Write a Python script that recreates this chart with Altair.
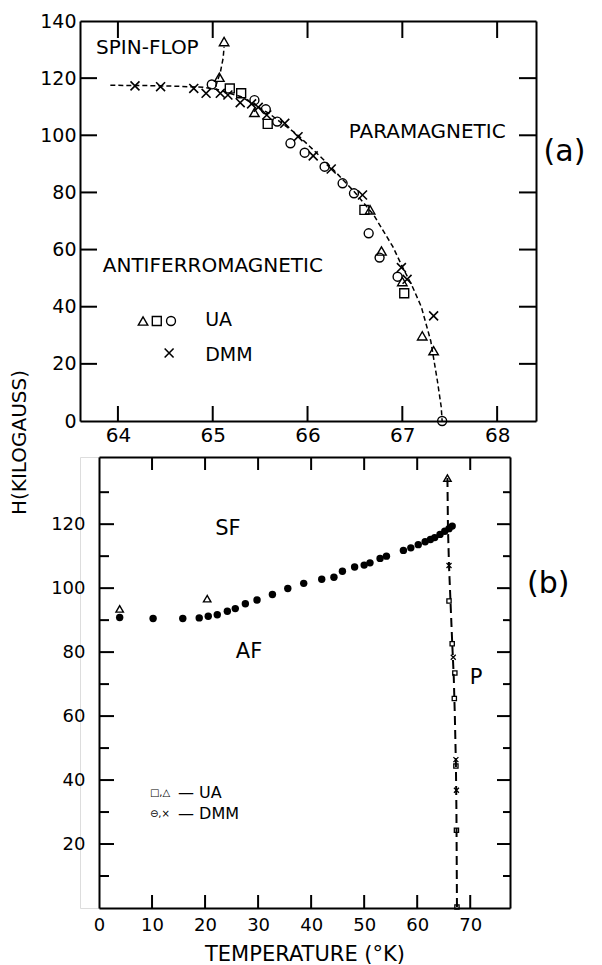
import altair as alt
import pandas as pd

FONT = "DejaVu Sans"
TICKCOLOR = "black"

# ---------------- Panel (a) data: temperature (K) vs field (kG) ----------------
a_tri_T = [65.12, 65.07, 65.44, 66.66, 66.78, 67.00, 67.21, 67.33]
a_tri_H = [132.8, 120.3, 108.0, 73.9, 59.5, 48.8, 29.8, 24.6]
a_sq_T = [65.18, 65.30, 65.58, 66.60, 67.02]
a_sq_H = [116.4, 114.7, 104.0, 73.9, 44.7]
a_circ_T = [64.99, 65.44, 65.56, 65.68, 65.82, 65.97, 66.18, 66.37, 66.49, 66.645, 66.76, 66.95, 67.42]
a_circ_H = [117.8, 112.3, 109.1, 104.8, 97.2, 93.9, 89.0, 83.2, 79.7, 65.7, 57.2, 50.5, 0.0]
a_x_T = [64.18, 64.45, 64.80, 64.93, 65.08, 65.16, 65.29, 65.41, 65.48, 65.57, 65.76, 65.90,
         66.06, 66.25, 66.58, 66.99, 67.05, 67.33]
a_x_H = [117.3, 117.0, 116.4, 114.7, 114.7, 114.1, 111.4, 111.0, 109.8, 107.1, 104.2, 99.5,
         92.8, 88.2, 79.1, 53.7, 49.6, 36.8]
a_curve_T = [63.92, 64.3, 64.6, 64.9, 65.05, 65.3, 65.6, 65.9, 66.2, 66.5, 66.7, 66.9, 67.0,
             67.1, 67.2, 67.3, 67.37, 67.41, 67.42]
a_curve_H = [117.5, 117.4, 117.2, 116.8, 116.0, 113.5, 107.5, 100.0, 90.5, 80.0, 72.0, 61.0,
             54.0, 47.5, 40.0, 28.0, 14.0, 5.0, 0.0]
a_branch_T = [65.03, 65.08, 65.11, 65.12]
a_branch_H = [117.0, 122.0, 127.0, 131.0]

a_xticks = [64, 65, 66, 67, 68]
a_ylabels = [0, 20, 40, 60, 80, 100, 120, 140]
a_yticks = [20, 40, 60, 80, 100, 120]

# ---------------- Panel (b) data ----------------
b_dot_T = [3.9, 10.2, 15.8, 18.9, 20.6, 22.3, 24.2, 25.7, 27.6, 29.8, 32.7, 35.6, 38.6, 42.0,
           44.3, 45.9, 48.2, 50.0, 51.1, 53.0, 54.2, 57.4, 58.8, 60.2, 61.5, 62.5, 63.3, 64.3,
           65.2, 66.0, 66.6]
b_dot_H = [90.8, 90.5, 90.5, 90.7, 91.2, 91.7, 92.8, 93.6, 95.1, 96.3, 98.0, 99.9, 101.5, 102.8,
           103.4, 105.3, 106.6, 107.2, 107.9, 109.3, 110.0, 111.8, 112.6, 113.6, 114.5, 115.2,
           115.8, 116.8, 117.8, 118.6, 119.4]
b_sq_T = [66.0, 66.6, 67.1, 67.0, 67.3, 67.4, 67.5]
b_sq_H = [96.0, 82.6, 73.5, 65.5, 44.4, 24.3, 0.3]
b_tri_T = [3.9, 20.4, 65.7]
b_tri_H = [93.5, 96.7, 134.4]
b_x_T = [66.0, 66.8, 67.3, 67.4]
b_x_H = [107.1, 78.4, 46.4, 36.8]
b_line_T = [65.7, 65.8, 66.0, 66.3, 66.6, 66.9, 67.1, 67.3, 67.4, 67.5]
b_line_H = [134.4, 119.0, 107.0, 95.0, 83.0, 72.0, 60.0, 45.0, 30.0, 0.0]

b_xlabels = [0, 10, 20, 30, 40, 50, 60, 70]
b_xticks = [10, 20, 30, 40, 50, 60, 70]
b_ylabels = [20, 40, 60, 80, 100, 120]
b_yminor = [10, 30, 50, 70, 90, 110, 130]

# ---------------- annotations (text and legend) ----------------
a_text = ["SPIN-FLOP", "ANTIFERROMAGNETIC"]
a_text_T = [63.77, 63.84]
a_text_H = [130.5, 54.1]
a_para = ["PARAMAGNETIC"]
a_para_T = [68.09]
a_para_H = [101.3]
a_tag_T, a_tag_H = [68.49], [94.2]
a_leg_text = ["UA", "DMM"]
a_leg_text_T = [64.92, 64.92]
a_leg_text_H = [35.3, 23.1]
a_leg_tri = ([64.265], [35.0])
a_leg_sq = ([64.41], [35.0])
a_leg_circ = ([64.56], [35.0])
a_leg_x = ([64.54], [23.8])

b_text = ["SF", "AF", "P"]
b_text_T = [24.3, 28.3, 71.1]
b_text_H = [118.4, 80.0, 71.9]
b_tag_T, b_tag_H = [84.7], [101.3]
b_leg_sym = ["\u25a1,\u25b3", "\u2296,\u00d7"]
b_leg_lab = ["\u2014 UA", "\u2014 DMM"]
b_leg_sym_T = [9.6, 9.6]
b_leg_lab_T = [14.9, 14.9]
b_leg_H = [35.8, 29.5]

CROSS = "M-1,-1L1,1M-1,1L1,-1"

WA, HA = 456, 400
WB, HB = 430, 451
B0 = 19  # left edge of panel (b) frame inside its group

xa = alt.Scale(domain=[63.6, 68.41], nice=False, zero=False)
ya = alt.Scale(domain=[0, 140], nice=False, zero=False)
xb = alt.Scale(domain=[0, 77.5], range=[B0, WB], nice=False, zero=False)
yb = alt.Scale(domain=[0, 141], nice=False, zero=False)

AX = dict(grid=False, domainColor="black", tickColor="black", labelColor="black",
          labelFont=FONT, titleFont=FONT, titleColor="black", domainWidth=2,
          labelFlush=False, labelOverlap=False, ticks=False, tickSize=0)


def df(T, H, **extra):
    d = {"T": T, "H": H}
    d.update(extra)
    d["i"] = list(range(len(T)))
    return pd.DataFrame(d)


def enc(xs, ys):
    return dict(x=alt.X("T:Q", scale=xs, axis=None), y=alt.Y("H:Q", scale=ys, axis=None))


def axis_layer(xs, ys, T0, H0, xaxis, yaxis):
    return alt.Chart(df([T0], [H0])).mark_point(opacity=0).encode(
        x=alt.X("T:Q", scale=xs, axis=xaxis), y=alt.Y("H:Q", scale=ys, axis=yaxis))


def xticks(vals, xs, y0, y1):
    return alt.Chart(pd.DataFrame({"T": vals})).mark_rule(
        color=TICKCOLOR, strokeWidth=2, opacity=1).encode(
        x=alt.X("T:Q", scale=xs, axis=None), y=alt.value(y0), y2=alt.value(y1))


def yticks(vals, ys, x0, x1):
    return alt.Chart(pd.DataFrame({"H": vals})).mark_rule(
        color=TICKCOLOR, strokeWidth=2, opacity=1).encode(
        y=alt.Y("H:Q", scale=ys, axis=None), x=alt.value(x0), x2=alt.value(x1))


def pts(T, H, xs, ys, shape, size, filled=False, sw=1.4):
    m = alt.Chart(df(T, H)).mark_point(shape=shape, filled=filled, color="black", size=size,
                                        strokeWidth=sw, opacity=1)
    return m.encode(**enc(xs, ys))


def line(T, H, xs, ys, dash, sw):
    return alt.Chart(df(T, H)).mark_line(color="black", strokeDash=dash, strokeWidth=sw).encode(
        order="i:Q", **enc(xs, ys))


def text(T, H, labels, xs, ys, size, align="left"):
    return alt.Chart(df(T, H, label=labels)).mark_text(
        font=FONT, fontSize=size, align=align, baseline="middle", color="black").encode(
        text="label:N", **enc(xs, ys))


# ---------------- panel (a) ----------------
axA1 = axis_layer(xa, ya, 64, 10,
    alt.Axis(orient="bottom", values=a_xticks, labelPadding=4, labelFontSize=20, title="", **AX),
    alt.Axis(orient="left", values=a_ylabels, labelPadding=4, labelFontSize=19,
             title="H(KILOGAUSS)", titleFontSize=20, titleFontWeight="normal",
             titleAngle=270, titleX=-61, titleY=421, titleAlign="center",
             titleBaseline="middle", **AX))
axA2 = axis_layer(xa, ya, 64, 10,
    alt.Axis(orient="bottom", offset=-HA, values=a_xticks, labels=False, title="", **AX),
    alt.Axis(orient="left", offset=-WA, values=a_yticks, labels=False, title="", **AX))

panel_a = alt.layer(
    axA1, axA2,
    xticks(a_xticks, xa, HA, HA - 15),
    xticks(a_xticks, xa, 0, 17),
    yticks(a_yticks, ya, 0, 17),
    yticks(a_yticks, ya, WA, WA - 17),
    line(a_curve_T, a_curve_H, xa, ya, [5, 3], 1.5),
    line(a_branch_T, a_branch_H, xa, ya, [5, 3], 1.5),
    pts(a_tri_T, a_tri_H, xa, ya, "triangle-up", 90),
    pts(a_sq_T, a_sq_H, xa, ya, "square", 80),
    pts(a_circ_T, a_circ_H, xa, ya, "circle", 80),
    pts(a_x_T, a_x_H, xa, ya, CROSS, 80, sw=1.6),
    pts(*a_leg_tri, xa, ya, "triangle-up", 90),
    pts(*a_leg_sq, xa, ya, "square", 80),
    pts(*a_leg_circ, xa, ya, "circle", 80),
    pts(*a_leg_x, xa, ya, CROSS, 80, sw=1.6),
    text(a_text_T, a_text_H, a_text, xa, ya, 20),
    text(a_para_T, a_para_H, a_para, xa, ya, 20, align="right"),
    text(a_leg_text_T, a_leg_text_H, a_leg_text, xa, ya, 19),
    text(a_tag_T, a_tag_H, ["(a)"], xa, ya, 30),
).resolve_axis(x="independent", y="independent").properties(width=WA, height=HA)

# ---------------- panel (b) ----------------
axB1 = axis_layer(xb, yb, 10, 10,
    alt.Axis(orient="bottom", values=b_xlabels, labelPadding=8, labelFontSize=18,
             title="TEMPERATURE (\u00b0K)", titleFontSize=21, titleFontWeight="normal",
             titlePadding=9, **AX),
    alt.Axis(orient="left", offset=-B0, values=b_ylabels, labelPadding=14, labelFontSize=18,
             title="", **AX))
axB2 = axis_layer(xb, yb, 10, 10,
    alt.Axis(orient="bottom", offset=-HB, values=b_xticks, labels=False, title="", **AX),
    alt.Axis(orient="left", offset=-WB, values=b_ylabels, labels=False, title="", **AX))

panel_b = alt.layer(
    axB1, axB2,
    xticks(b_xticks, xb, HB, HB - 13),
    xticks(b_xticks, xb, 0, 13),
    yticks(b_ylabels, yb, B0, B0 + 15),
    yticks(b_yminor, yb, B0, B0 + 10),
    yticks(b_ylabels, yb, WB, WB - 13),
    yticks(b_yminor, yb, WB, WB - 7),
    line(b_line_T, b_line_H, xb, yb, [9, 5], 2),
    pts(b_dot_T, b_dot_H, xb, yb, "circle", 55, filled=True, sw=0),
    pts(b_tri_T, b_tri_H, xb, yb, "triangle-up", 55, sw=1.4),
    pts(b_sq_T, b_sq_H, xb, yb, "square", 18, sw=1.3),
    pts(b_x_T, b_x_H, xb, yb, CROSS, 25, sw=1.3),
    text(b_text_T, b_text_H, b_text, xb, yb, 21, align="center"),
    text(b_tag_T, b_tag_H, ["(b)"], xb, yb, 30, align="center"),
    text(b_leg_sym_T, b_leg_H, b_leg_sym, xb, yb, 10),
    text(b_leg_lab_T, b_leg_H, b_leg_lab, xb, yb, 16),
).resolve_axis(x="independent", y="independent").properties(width=WB, height=HB)

chart = alt.vconcat(panel_a, panel_b, spacing=36, bounds="flush").properties(
    padding={"left": 0, "top": 3, "right": 0, "bottom": 0}
).configure_view(stroke=None).configure(font=FONT)

chart.save("out.html", embed_options={"renderer": "svg", "actions": False})
